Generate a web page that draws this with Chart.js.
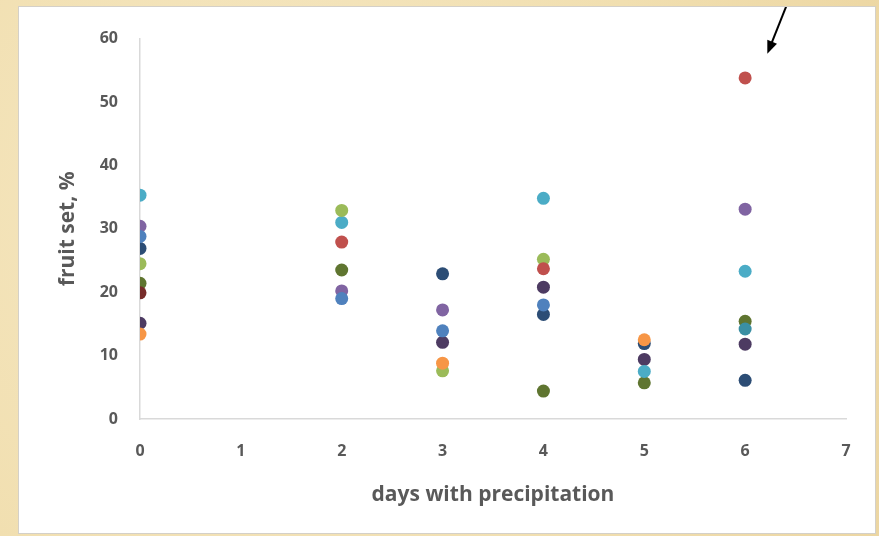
<!DOCTYPE html>
<html>
<head>
<meta charset="utf-8">
<script src="https://cdn.jsdelivr.net/npm/chart.js@4"></script>
<style>
  html, body { margin: 0; padding: 0; }
  body {
    width: 879px; height: 536px; overflow: hidden;
    background: radial-gradient(circle at 30% 40%, #f6e8c4 0%, #f1dfb0 60%, #ecd6a2 100%);
    position: relative;
  }
  #panel {
    position: absolute; left: 18px; top: 6px; width: 856px; height: 526px;
    background: #fff; border: 1px solid #d4d0c8;
  }
  #fruitChart { display: block; }
</style>
</head>
<body>
<div id="panel"><canvas id="fruitChart" width="856" height="526"></canvas></div>
<script>
// days with precipitation (x) and fruit set % (y), one array per series colour
const xTicks = [0, 1, 2, 3, 4, 5, 6, 7];
const yTicks = [0, 10, 20, 30, 40, 50, 60];

const blueX = [0, 2, 3, 4];            const blueY = [28.8, 19.0, 13.9, 18.0];
const redX = [2, 4, 6];                const redY = [27.9, 23.7, 53.8];
const greenX = [0, 2, 3, 4];           const greenY = [24.5, 32.9, 7.6, 25.2];
const purpleX = [0, 2, 3, 6];          const purpleY = [30.4, 20.2, 17.2, 33.1];
const cyanX = [0, 2, 4, 5, 6];         const cyanY = [35.3, 31.0, 34.8, 7.5, 23.3];
const orangeX = [0, 3, 5];             const orangeY = [13.4, 8.8, 12.5];
const navyX = [0, 3, 4, 5, 6];         const navyY = [26.9, 22.9, 16.5, 11.9, 6.1];
const darkRedX = [0];                  const darkRedY = [19.9];
const oliveX = [0, 2, 4, 5, 6];        const oliveY = [21.4, 23.5, 4.4, 5.7, 15.4];
const darkPurpleX = [0, 3, 4, 5, 6];   const darkPurpleY = [15.1, 12.1, 20.8, 9.4, 11.8];
const darkCyanX = [6];                 const darkCyanY = [14.2];

function pts(xs, ys) {
    return xs.map((x, i) => ({ x: x, y: ys[i] }));
}

const seriesList = [
    { label: 'darkCyan', data: pts(darkCyanX, darkCyanY), color: '#3a8fa3' },
    { label: 'orange', data: pts(orangeX, orangeY), color: '#f79646' },
    { label: 'blue', data: pts(blueX, blueY), color: '#4f81bd' },
    { label: 'red', data: pts(redX, redY), color: '#c0504d' },
    { label: 'green', data: pts(greenX, greenY), color: '#9bbb59' },
    { label: 'purple', data: pts(purpleX, purpleY), color: '#8064a2' },
    { label: 'cyan', data: pts(cyanX, cyanY), color: '#4bacc6' },
    { label: 'navy', data: pts(navyX, navyY), color: '#2c4d75' },
    { label: 'darkRed', data: pts(darkRedX, darkRedY), color: '#772c2a' },
    { label: 'olive', data: pts(oliveX, oliveY), color: '#5f7530' },
    { label: 'darkPurple', data: pts(darkPurpleX, darkPurpleY), color: '#4d3b62' }
];

// arrow pointing at the outlier (tail runs off the top of the panel)
const arrowTip = { x: 6.22, y: 57.6 };
const arrowTail = { x: 6.43, y: 66.0 };

const arrowPlugin = {
    id: 'outlierArrow',
    afterDraw: function (chart) {
        const { ctx, scales } = chart;
        const tx = scales.x.getPixelForValue(arrowTip.x);
        const ty = scales.y.getPixelForValue(arrowTip.y);
        const sx = scales.x.getPixelForValue(arrowTail.x);
        const sy = scales.y.getPixelForValue(arrowTail.y);
        const ang = Math.atan2(ty - sy, tx - sx);
        const head = 14;
        ctx.save();
        ctx.strokeStyle = '#000';
        ctx.fillStyle = '#000';
        ctx.lineWidth = 2;
        ctx.beginPath();
        ctx.moveTo(sx, sy);
        ctx.lineTo(tx - Math.cos(ang) * head * 0.8, ty - Math.sin(ang) * head * 0.8);
        ctx.stroke();
        ctx.beginPath();
        ctx.moveTo(tx, ty);
        ctx.lineTo(tx - head * Math.cos(ang - 0.38), ty - head * Math.sin(ang - 0.38));
        ctx.lineTo(tx - head * Math.cos(ang + 0.38), ty - head * Math.sin(ang + 0.38));
        ctx.closePath();
        ctx.fill();
        ctx.restore();
    }
};

const tickFont = { family: "'Open Sans', sans-serif", size: 16, weight: 'bold' };
const titleFont = { family: "'Open Sans', sans-serif", size: 21, weight: 'bold' };

new Chart(document.getElementById('fruitChart'), {
    type: 'scatter',
    data: {
        datasets: seriesList.map(s => ({
            label: s.label,
            data: s.data,
            backgroundColor: s.color,
            borderColor: s.color,
            pointRadius: 6.5,
            pointBorderWidth: 0
        }))
    },
    options: {
        responsive: false,
        animation: false,
        layout: { padding: { top: 29, right: 29, left: 0, bottom: 0 } },
        plugins: {
            legend: { display: false },
            tooltip: { enabled: false }
        },
        scales: {
            x: {
                type: 'linear',
                min: 0,
                max: 7,
                afterBuildTicks: function (axis) {
                    axis.ticks = xTicks.map(v => ({ value: v }));
                },
                afterFit: function (axis) { axis.height = 114; },
                grid: { display: false, drawTicks: false },
                border: { display: true, color: '#d9d9d9', width: 1.5 },
                ticks: { color: '#595959', font: tickFont, padding: 23, maxRotation: 0 },
                title: {
                    display: true,
                    text: 'days with precipitation',
                    color: '#595959',
                    font: titleFont,
                    padding: { top: 0, bottom: 25 }
                }
            },
            y: {
                min: 0,
                max: 60,
                afterBuildTicks: function (axis) {
                    axis.ticks = yTicks.map(v => ({ value: v }));
                },
                afterFit: function (axis) { axis.width = 121; },
                grid: { display: false, drawTicks: false },
                border: { display: true, color: '#d9d9d9', width: 1.5 },
                ticks: { color: '#595959', font: tickFont, padding: 22 },
                title: {
                    display: true,
                    text: 'fruit set, %',
                    color: '#595959',
                    font: titleFont,
                    padding: { top: 36, bottom: 0 }
                }
            }
        }
    },
    plugins: [arrowPlugin]
});
</script>
</body>
</html>
